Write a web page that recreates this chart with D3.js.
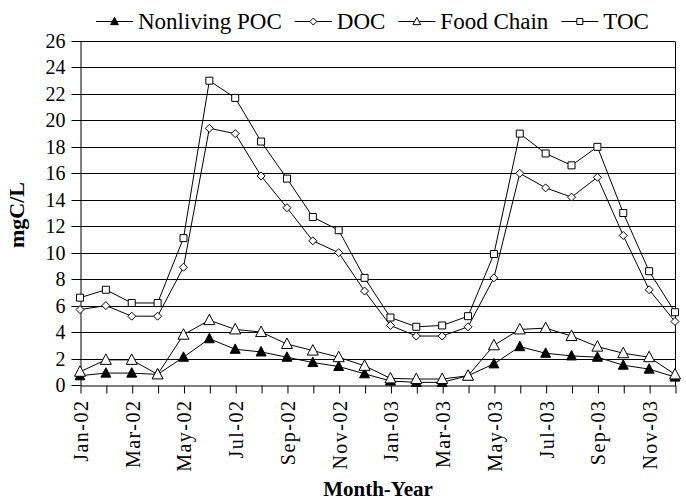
<!DOCTYPE html>
<html><head><meta charset="utf-8">
<script src="https://cdn.jsdelivr.net/npm/d3@7"></script>
<style>body{margin:0;background:#fff}svg{display:block}</style>
</head><body>
<svg id="c" width="686" height="500"></svg>
<script>
const months = ["Jan-02","Feb-02","Mar-02","Apr-02","May-02","Jun-02","Jul-02","Aug-02","Sep-02","Oct-02","Nov-02","Dec-02",
                "Jan-03","Feb-03","Mar-03","Apr-03","May-03","Jun-03","Jul-03","Aug-03","Sep-03","Oct-03","Nov-03","Dec-03"];
const nonlivingPOC = [0.7,0.9,0.9,0.8,2.1,3.5,2.7,2.5,2.1,1.7,1.4,0.85, 0.3,0.2,0.2,0.7,1.6,2.9,2.4,2.2,2.1,1.5,1.2,0.6];
const doc = [5.7,6.0,5.2,5.2,8.9,19.4,19.0,15.8,13.4,10.9,10.0,7.1, 4.5,3.7,3.7,4.4,8.1,16.0,14.9,14.2,15.7,11.3,7.2,4.8];
const foodChain = [1.0,1.9,1.9,0.8,3.8,4.9,4.2,4.0,3.1,2.6,2.1,1.45, 0.5,0.45,0.45,0.7,3.0,4.2,4.3,3.7,2.9,2.4,2.1,0.8];
const toc = [6.6,7.2,6.2,6.2,11.1,23.0,21.7,18.4,15.6,12.7,11.7,8.1, 5.1,4.4,4.5,5.2,9.9,19.0,17.5,16.6,18.0,13.0,8.6,5.5];
const yTicks = [0,2,4,6,8,10,12,14,16,18,20,22,24,26];
const seriesNames = ["Nonliving POC","DOC","Food Chain","TOC"];

const FONT = "'Liberation Serif','Times New Roman',serif";
const svg = d3.select("#c");
const L = 80, R = 675, T = 41, B = 385;
const x = d3.scalePoint().domain(months).range([L, R]);
const y = d3.scaleLinear().domain([0, 26]).range([B, T]);

// gridlines
svg.append("g").selectAll("line").data(yTicks.filter(d => d > 0)).join("line")
  .attr("x1", L).attr("x2", R)
  .attr("y1", d => Math.round(y(d)) + 0.5).attr("y2", d => Math.round(y(d)) + 0.5)
  .attr("stroke", "#000").attr("stroke-width", 1);
// right border
svg.append("line").attr("x1", R + 0.5).attr("x2", R + 0.5)
  .attr("y1", Math.round(y(26)) + 0.5).attr("y2", B + 0.5).attr("stroke", "#000");

// y axis
const ya = svg.append("g").attr("transform", `translate(${L + 0.5},0.5)`)
  .call(d3.axisLeft(y).tickValues(yTicks).tickSize(9).tickPadding(6).tickSizeOuter(0));
ya.selectAll("text").attr("font-family", FONT).attr("font-size", 20).attr("fill", "#000");
ya.selectAll("line,path").attr("stroke", "#000");
ya.selectAll(".tick").attr("transform", d => `translate(0,${Math.round(y(d))})`);

// x axis
const xa = svg.append("g").attr("transform", `translate(0.5,${B + 0.5})`)
  .call(d3.axisBottom(x).tickSize(8).tickSizeOuter(0).tickFormat((d, i) => i % 2 === 0 ? d : ""));
xa.selectAll("line,path").attr("stroke", "#000");
xa.selectAll("text")
  .attr("font-family", FONT).attr("font-size", 20).attr("fill", "#000")
  .attr("letter-spacing", "1.5px")
  .attr("text-anchor", "end")
  .attr("transform", "rotate(-90)")
  .attr("x", -14).attr("y", 0).attr("dy", "0.35em");

// series
const triUp = (s) => `M0,${-s*0.6}L${s*0.55},${s*0.45}L${-s*0.55},${s*0.45}Z`;
const diamond = (s) => `M0,${-s/2}L${s/2},0L0,${s/2}L${-s/2},0Z`;
const square = (s) => `M${-s/2},${-s/2}H${s/2}V${s/2}H${-s/2}Z`;
const series = [
  {name: seriesNames[0], values: nonlivingPOC, path: triUp(9), lpath: triUp(7), fill: "#000"},
  {name: seriesNames[1], values: doc, path: diamond(8), lpath: diamond(7), fill: "#fff"},
  {name: seriesNames[2], values: foodChain, path: triUp(10), lpath: triUp(7), fill: "#fff"},
  {name: seriesNames[3], values: toc, path: square(7), lpath: square(6), fill: "#fff"}
];
const line = d3.line().x((d, i) => x(months[i])).y(d => y(d));
series.forEach(s => {
  svg.append("path").attr("d", line(s.values)).attr("fill", "none")
    .attr("stroke", "#000").attr("stroke-width", 1);
  svg.append("g").selectAll("path").data(s.values).join("path")
    .attr("transform", (d, i) => `translate(${x(months[i])},${y(d)})`)
    .attr("d", s.path).attr("fill", s.fill).attr("stroke", "#000").attr("stroke-width", 1);
});

// legend
let lx = 96;
const ly = 21;
series.forEach(s => {
  const g = svg.append("g");
  g.append("line").attr("x1", lx).attr("x2", lx + 37).attr("y1", ly + 0.5).attr("y2", ly + 0.5)
    .attr("stroke", "#000").attr("stroke-width", 1.2);
  g.append("path").attr("transform", `translate(${lx + 18.5},${ly + 0.5})`)
    .attr("d", s.lpath).attr("fill", s.fill).attr("stroke", "#000").attr("stroke-width", 1);
  const t = g.append("text").attr("x", lx + 42).attr("y", 29).text(s.name)
    .attr("font-family", FONT).attr("font-size", 23).attr("fill", "#000");
  lx = lx + 42 + t.node().getComputedTextLength() + 13;
});

// axis titles
svg.append("text").attr("x", 378).attr("y", 496).attr("text-anchor", "middle")
  .attr("font-family", FONT).attr("font-weight", "bold").attr("font-size", 21).text("Month-Year");
svg.append("text").attr("transform", "translate(24,215) rotate(-90)").attr("text-anchor", "middle")
  .attr("font-family", FONT).attr("font-weight", "bold").attr("font-size", 22).text("mgC/L");
</script>
</body></html>
